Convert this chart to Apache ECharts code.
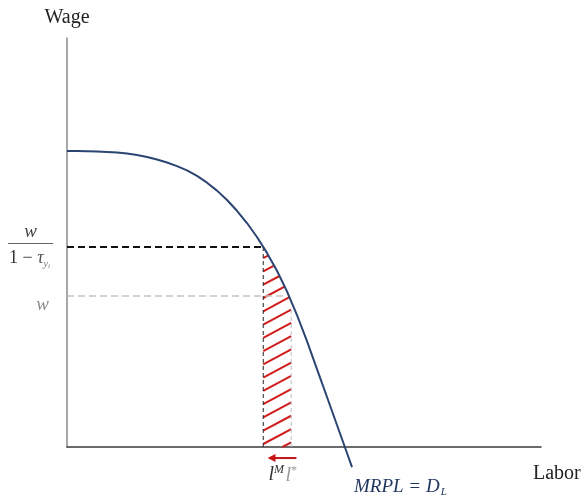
<!DOCTYPE html>
<html><head><meta charset="utf-8">
<script src="https://cdn.jsdelivr.net/npm/echarts@6/dist/echarts.min.js"></script>
<style>html,body{margin:0;padding:0;background:#fff}#c{width:584px;height:500px}</style>
</head><body><div id="c"></div>
<script>
// Demand curve (MRPL = D_L)
var curveX = [0, 2.11, 4.22, 6.33, 8.44, 10.55, 12.66, 14.77, 16.88, 18.99, 21.1, 23.21, 25.32, 27.43, 29.54,
  31.65, 33.76, 35.86, 37.97, 40.08, 42.19, 44.3, 46.41, 48.52, 50.63, 52.74, 54.85, 56.96, 59.07, 60.13];
var curveY = [72.37, 72.36, 72.32, 72.25, 72.15, 72.0, 71.74, 71.37, 70.9, 70.29, 69.55, 68.67, 67.63, 66.28, 64.63,
  62.68, 60.4, 57.76, 54.76, 51.35, 47.46, 43.08, 38.04, 32.27, 25.89, 19.06, 12.22, 5.37, -1.47, -4.9];
// key levels
var lM = 41.4, lStar = 47.3;
var wHigh = 48.9, wLow = 36.9;
var wLowEnd = 46.3;      // gray wage guide ends at the curve
var lStarTop = 33.5;     // top of the l* guide
var arrowFrom = [48.4, -2.7], arrowTo = [42.3, -2.7];
var xTickValues = [lM, lStar];
var yTickValues = [wHigh, wLow];

function curveAt(x) {
  for (var i = 0; i < curveX.length - 1; i++) {
    if (x >= curveX[i] && x <= curveX[i + 1]) {
      var f = (x - curveX[i]) / (curveX[i + 1] - curveX[i]);
      return curveY[i] + f * (curveY[i + 1] - curveY[i]);
    }
  }
  return curveY[curveY.length - 1];
}
function regionPts() {
  var pts = [[lM, 0], [lStar, 0], [lStar, curveAt(lStar)]];
  for (var i = curveX.length - 1; i >= 0; i--) {
    if (curveX[i] > lM && curveX[i] < lStar) pts.push([curveX[i], curveY[i]]);
  }
  pts.push([lM, curveAt(lM)]);
  return pts;
}
function hatchRender(params, api) {
  var poly = regionPts().map(function (p) { return api.coord(p); });
  var d = [28, -15], L = Math.hypot(d[0], d[1]); d = [d[0] / L, d[1] / L];
  var n = [-d[1], d[0]];
  var spacing = 11.7;
  var ref = api.coord([lM, 0]); ref = [ref[0], ref[1] - 3];
  var s0 = n[0] * ref[0] + n[1] * ref[1];
  var proj = poly.map(function (p) { return n[0] * p[0] + n[1] * p[1]; });
  var smin = Math.min.apply(null, proj), smax = Math.max.apply(null, proj);
  var kmin = Math.ceil((smin - s0) / spacing), kmax = Math.floor((smax - s0) / spacing);
  var children = [];
  for (var k = kmin; k <= kmax; k++) {
    var s = s0 + k * spacing;
    var P0 = [n[0] * s, n[1] * s];
    var ts = [];
    for (var i = 0; i < poly.length; i++) {
      var A = poly[i], B = poly[(i + 1) % poly.length];
      var e = [B[0] - A[0], B[1] - A[1]];
      var den = d[0] * e[1] - d[1] * e[0];
      if (Math.abs(den) < 1e-9) continue;
      var w = [A[0] - P0[0], A[1] - P0[1]];
      var t = (w[0] * e[1] - w[1] * e[0]) / den;
      var u = (w[0] * d[1] - w[1] * d[0]) / den;
      if (u >= -1e-9 && u <= 1 + 1e-9) ts.push(t);
    }
    if (ts.length >= 2) {
      var t1 = Math.min.apply(null, ts), t2 = Math.max.apply(null, ts);
      if (t2 - t1 > 1.5) {
        children.push({
          type: 'line',
          shape: { x1: P0[0] + t1 * d[0], y1: P0[1] + t1 * d[1], x2: P0[0] + t2 * d[0], y2: P0[1] + t2 * d[1] },
          style: { stroke: '#d01c1c', lineWidth: 2 }
        });
      }
    }
  }
  return { type: 'group', children: children };
}
function arrowRender(params, api) {
  var a = api.coord(arrowFrom), b = api.coord(arrowTo);
  var head = 8, hw = 4;
  return {
    type: 'group', children: [
      { type: 'line', shape: { x1: a[0], y1: a[1], x2: b[0] + head - 1, y2: b[1] }, style: { stroke: '#c81414', lineWidth: 2 } },
      { type: 'polygon', shape: { points: [[b[0], b[1]], [b[0] + head, b[1] - hw], [b[0] + head, b[1] + hw]] }, style: { fill: '#c81414' } }
    ]
  };
}

var serif = 'Liberation Serif';
var chart = echarts.init(document.getElementById('c'), null, { renderer: 'canvas' });
chart.setOption({
  animation: false,
  backgroundColor: '#fff',
  grid: { left: 67, right: 43, top: 38, bottom: 53 },
  xAxis: {
    type: 'value', min: 0, max: 100,
    axisLine: { show: true, onZero: false, lineStyle: { color: '#3a3a3a', width: 1.5 } },
    axisTick: { show: false }, splitLine: { show: false },
    axisLabel: {
      customValues: xTickValues, margin: 17,
      formatter: function (v, i) { return i === 0 || v === lM ? '{lm|l}{sup|M}' : '{ls|l}{sup2|*}'; },
      rich: {
        lm: { fontFamily: serif, fontStyle: 'italic', fontSize: 20, color: '#333', padding: [0, 0, 0, 26] },
        sup: { fontFamily: serif, fontStyle: 'italic', fontSize: 12, color: '#333', padding: [0, 0, 10, 0] },
        ls: { fontFamily: serif, fontStyle: 'italic', fontSize: 20, color: '#999', padding: [2, 0, 0, 0] },
        sup2: { fontFamily: serif, fontSize: 12, color: '#999', padding: [0, 0, 8, 0] }
      }
    },
    name: 'Labor', nameLocation: 'end', nameGap: -8,
    nameTextStyle: { fontFamily: serif, fontSize: 20, color: '#222', verticalAlign: 'top', lineHeight: 22, padding: [16, 0, 0, 0] }
  },
  yAxis: {
    type: 'value', min: 0, max: 100,
    axisLine: { show: true, lineStyle: { color: '#8a8a8a', width: 1.5 } },
    axisTick: { show: false }, splitLine: { show: false },
    axisLabel: {
      customValues: yTickValues, margin: 14,
      formatter: function (v, i) {
        return v === wHigh ? '{num|w}\n{bar| }\n{one|1 − }{tau|τ}{sy|y}{si|i}' : '{w|w}';
      },
      rich: {
        num: { fontFamily: serif, fontStyle: 'italic', fontSize: 19, color: '#444', width: 45, align: 'center', lineHeight: 16 },
        bar: { width: 45, height: 1.2, backgroundColor: '#666', lineHeight: 6, fontSize: 1 },
        one: { fontFamily: serif, fontSize: 18, color: '#333', lineHeight: 22 },
        tau: { fontFamily: serif, fontStyle: 'italic', fontSize: 18, color: '#555', lineHeight: 22 },
        sy: { fontFamily: serif, fontStyle: 'italic', fontSize: 10, color: '#777', padding: [12, 0, 0, 0] },
        si: { fontFamily: serif, fontStyle: 'italic', fontSize: 7, color: '#777', padding: [16, 3, 0, 0] },
        w: { fontFamily: serif, fontStyle: 'italic', fontSize: 19, color: '#8c8c8c', padding: [18, 4, 0, 0] }
      }
    },
    name: 'Wage', nameLocation: 'end', nameGap: 10,
    nameTextStyle: { fontFamily: serif, fontSize: 20, color: '#222' }
  },
  series: [
    { type: 'custom', coordinateSystem: 'cartesian2d', renderItem: hatchRender, data: [[lM, 0]], silent: true, z: 1 },
    { type: 'line', data: [[0, wHigh], [lM, wHigh]], symbol: 'none', lineStyle: { color: '#111', width: 2, type: [7, 4] }, z: 3 },
    { type: 'line', data: [[lM, wHigh], [lM, 0]], symbol: 'none', lineStyle: { color: '#222', width: 1, type: [4, 3] }, z: 3 },
    { type: 'line', data: [[0, wLow], [wLowEnd, wLow]], symbol: 'none', lineStyle: { color: '#c4c4c4', width: 1.5, type: [7, 4] }, z: 3 },
    { type: 'line', data: [[lStar, 0], [lStar, lStarTop]], symbol: 'none', lineStyle: { color: '#bdbdbd', width: 1, type: [4, 3] }, z: 3 },
    {
      type: 'line', data: curveX.map(function (x, i) { return [x, curveY[i]]; }), smooth: false, clip: false,
      symbol: 'none', lineStyle: { color: '#2b4572', width: 2, join: 'round' }, z: 5,
      endLabel: {
        show: true, formatter: '{m|MRPL = D}{s|L}', offset: [-6, 20],
        rich: {
          m: { fontFamily: serif, fontStyle: 'italic', fontSize: 19, color: '#22375f' },
          s: { fontFamily: serif, fontStyle: 'italic', fontSize: 11, color: '#22375f', padding: [10, 0, 0, 1] }
        }
      }
    },
    { type: 'custom', coordinateSystem: 'cartesian2d', renderItem: arrowRender, data: [[0, 0]], clip: false, silent: true, z: 6 }
  ]
});
</script></body></html>
